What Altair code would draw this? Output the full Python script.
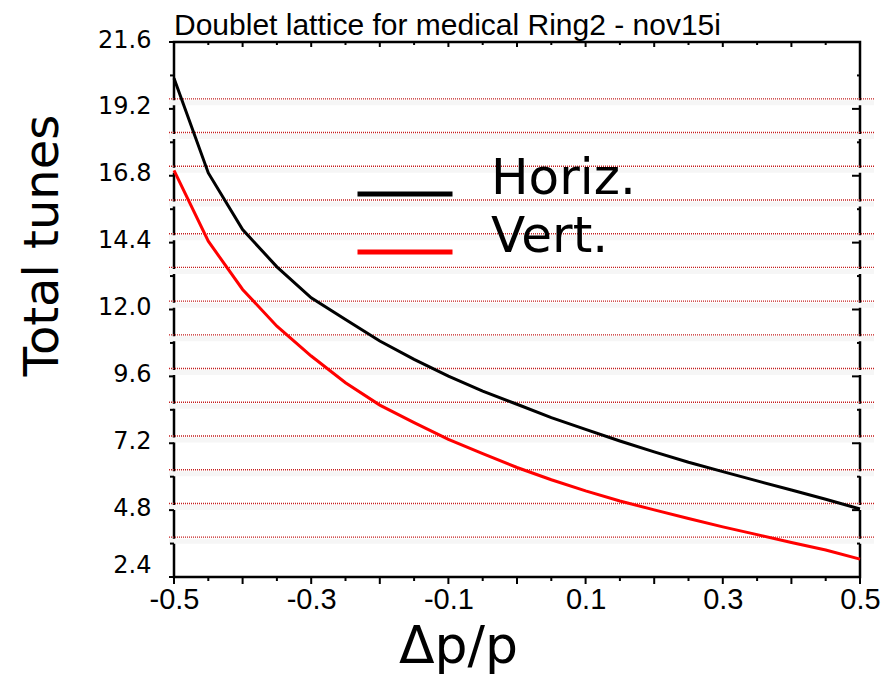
import altair as alt
import pandas as pd

# Momentum offset dp/p sampled every 0.05
dp = [-0.50, -0.45, -0.40, -0.35, -0.30, -0.25, -0.20, -0.15, -0.10, -0.05,
      0.00, 0.05, 0.10, 0.15, 0.20, 0.25, 0.30, 0.35, 0.40, 0.45, 0.50]

# Total tunes in each plane
horiz = [20.30, 16.90, 14.87, 13.53, 12.42, 11.64, 10.87, 10.21, 9.61, 9.07,
         8.60, 8.12, 7.70, 7.28, 6.89, 6.52, 6.18, 5.85, 5.52, 5.19, 4.84]
vert = [16.99, 14.45, 12.72, 11.40, 10.33, 9.37, 8.57, 7.94, 7.34, 6.83,
        6.33, 5.89, 5.49, 5.13, 4.81, 4.50, 4.20, 3.92, 3.64, 3.37, 3.04]

series_names = ["Horiz.", "Vert."]
series_colors = ["#000000", "#ff0000"]

# Axis tick values
x_labels = [-0.5, -0.3, -0.1, 0.1, 0.3, 0.5]
x_major = [-0.5, -0.4, -0.3, -0.2, -0.1, 0.0, 0.1, 0.2, 0.3, 0.4, 0.5]
x_minor = [-0.45, -0.35, -0.25, -0.15, -0.05, 0.05, 0.15, 0.25, 0.35, 0.45]
y_major = [2.4, 4.8, 7.2, 9.6, 12.0, 14.4, 16.8, 19.2, 21.6]
y_minor = [3.6, 6.0, 8.4, 10.8, 13.2, 15.6, 18.0, 20.4]

# Dotted reference lines across the frame
grid_levels = [19.56, 18.35, 17.14, 15.93, 14.72, 13.51, 12.30, 11.09,
               9.88, 8.67, 7.46, 6.25, 5.04, 3.83]

W, H = 686, 535

curves = pd.DataFrame({
    "dp": dp * 2,
    "tune": horiz + vert,
    "plane": [series_names[0]] * len(dp) + [series_names[1]] * len(dp),
})
grid_df = pd.DataFrame({"tune": grid_levels})
xmaj_df = pd.DataFrame({"dp": x_major})
xmin_df = pd.DataFrame({"dp": x_minor})
ymaj_df = pd.DataFrame({"tune": y_major})
ymin_df = pd.DataFrame({"tune": y_minor})

xs = alt.Scale(domain=[-0.5, 0.5], nice=False, zero=False)
ys = alt.Scale(domain=[2.4, 21.6], nice=False, zero=False)

# faint shadow under each dotted line, then the dotted line itself
grid_shadow = alt.Chart(grid_df).mark_rule(
    color="#f6f6f6", strokeWidth=5, yOffset=4
).encode(y=alt.Y("tune:Q", scale=ys), x=alt.value(-5), x2=alt.value(W + 14))

grid = alt.Chart(grid_df).mark_rule(
    color="#c41e1e", strokeWidth=1.4, strokeDash=[1, 1]
).encode(y=alt.Y("tune:Q", scale=ys), x=alt.value(-5), x2=alt.value(W + 14))

lines = alt.Chart(curves).mark_line(strokeWidth=3).encode(
    x=alt.X("dp:Q", scale=xs, axis=alt.Axis(
        values=x_labels, ticks=False, tickSize=0, domain=False, grid=False,
        labelExpr="datum.value < 0 ? '-' + format(-datum.value, '.1f') : format(datum.value, '.1f')",
        labelFont="Liberation Sans", labelFontSize=29, labelColor="black",
        labelPadding=31, labelBaseline="alphabetic", labelFlush=False,
        labelOverlap=False,
        title="Δp/p", titleFont="DejaVu Sans", titleFontSize=52,
        titleFontWeight="normal", titleColor="black",
        titleX=284, titleY=85, titleAlign="center", titleBaseline="alphabetic",
    )),
    y=alt.Y("tune:Q", scale=ys, axis=alt.Axis(
        values=y_major, format=".1f", ticks=False, tickSize=0, domain=False,
        grid=False, labelFont="DejaVu Sans", labelFontSize=24,
        labelColor="black", labelPadding=23, labelOverlap=False,
        labelFlush=False, labelBaseline="middle",
        labelOffset={"condition": {"test": "datum.value < 3", "value": -12}, "value": -2},
        title="Total tunes", titleFont="DejaVu Sans", titleFontSize=48,
        titleFontWeight="normal", titleColor="black",
        titleX=-117, titleY=203, titleAlign="center", titleBaseline="alphabetic",
    )),
    color=alt.Color("plane:N", scale=alt.Scale(domain=series_names, range=series_colors),
                    legend=alt.Legend(
                        title=None, orient="none", legendX=206, legendY=127,
                        symbolType="M-5,0H5", symbolSize=361, symbolStrokeWidth=5,
                        labelFont="DejaVu Sans", labelFontSize=50, labelColor="black",
                        labelBaseline="alphabetic", labelOffset=61, rowPadding=8,
                    )),
)

def tick_layer(df, channel, a, b):
    if channel == "x":
        enc = dict(x=alt.X("dp:Q", scale=xs), y=alt.value(a), y2=alt.value(b))
    else:
        enc = dict(y=alt.Y("tune:Q", scale=ys), x=alt.value(a), x2=alt.value(b))
    return alt.Chart(df).mark_rule(color="black", strokeWidth=2).encode(**enc)

ticks = [
    tick_layer(xmaj_df, "x", H, H + 7),
    tick_layer(xmin_df, "x", H, H + 4),
    tick_layer(xmaj_df, "x", 0, 5),
    tick_layer(xmin_df, "x", 0, 3),
    tick_layer(ymaj_df, "y", -5, 0),
    tick_layer(ymin_df, "y", -4, 0),
    tick_layer(ymaj_df, "y", W - 8, W),
    tick_layer(ymin_df, "y", W - 3, W),
]

chart = alt.layer(grid_shadow, grid, lines, *ticks).properties(
    width=W, height=H,
    background="white",
    autosize=alt.AutoSizeParams(type="none"),
    padding={"left": 174, "top": 42, "right": 22, "bottom": 99},
    title=alt.TitleParams(
        "Doublet lattice for medical Ring2 - nov15i", anchor="start", frame="group",
        font="Liberation Sans", fontSize=30, fontWeight="normal", color="black",
        baseline="alphabetic", offset=9, dy=46,
    ),
).configure_view(stroke="black", strokeWidth=2.5)

chart.save("out.html", embed_options={"renderer": "svg", "actions": False})
